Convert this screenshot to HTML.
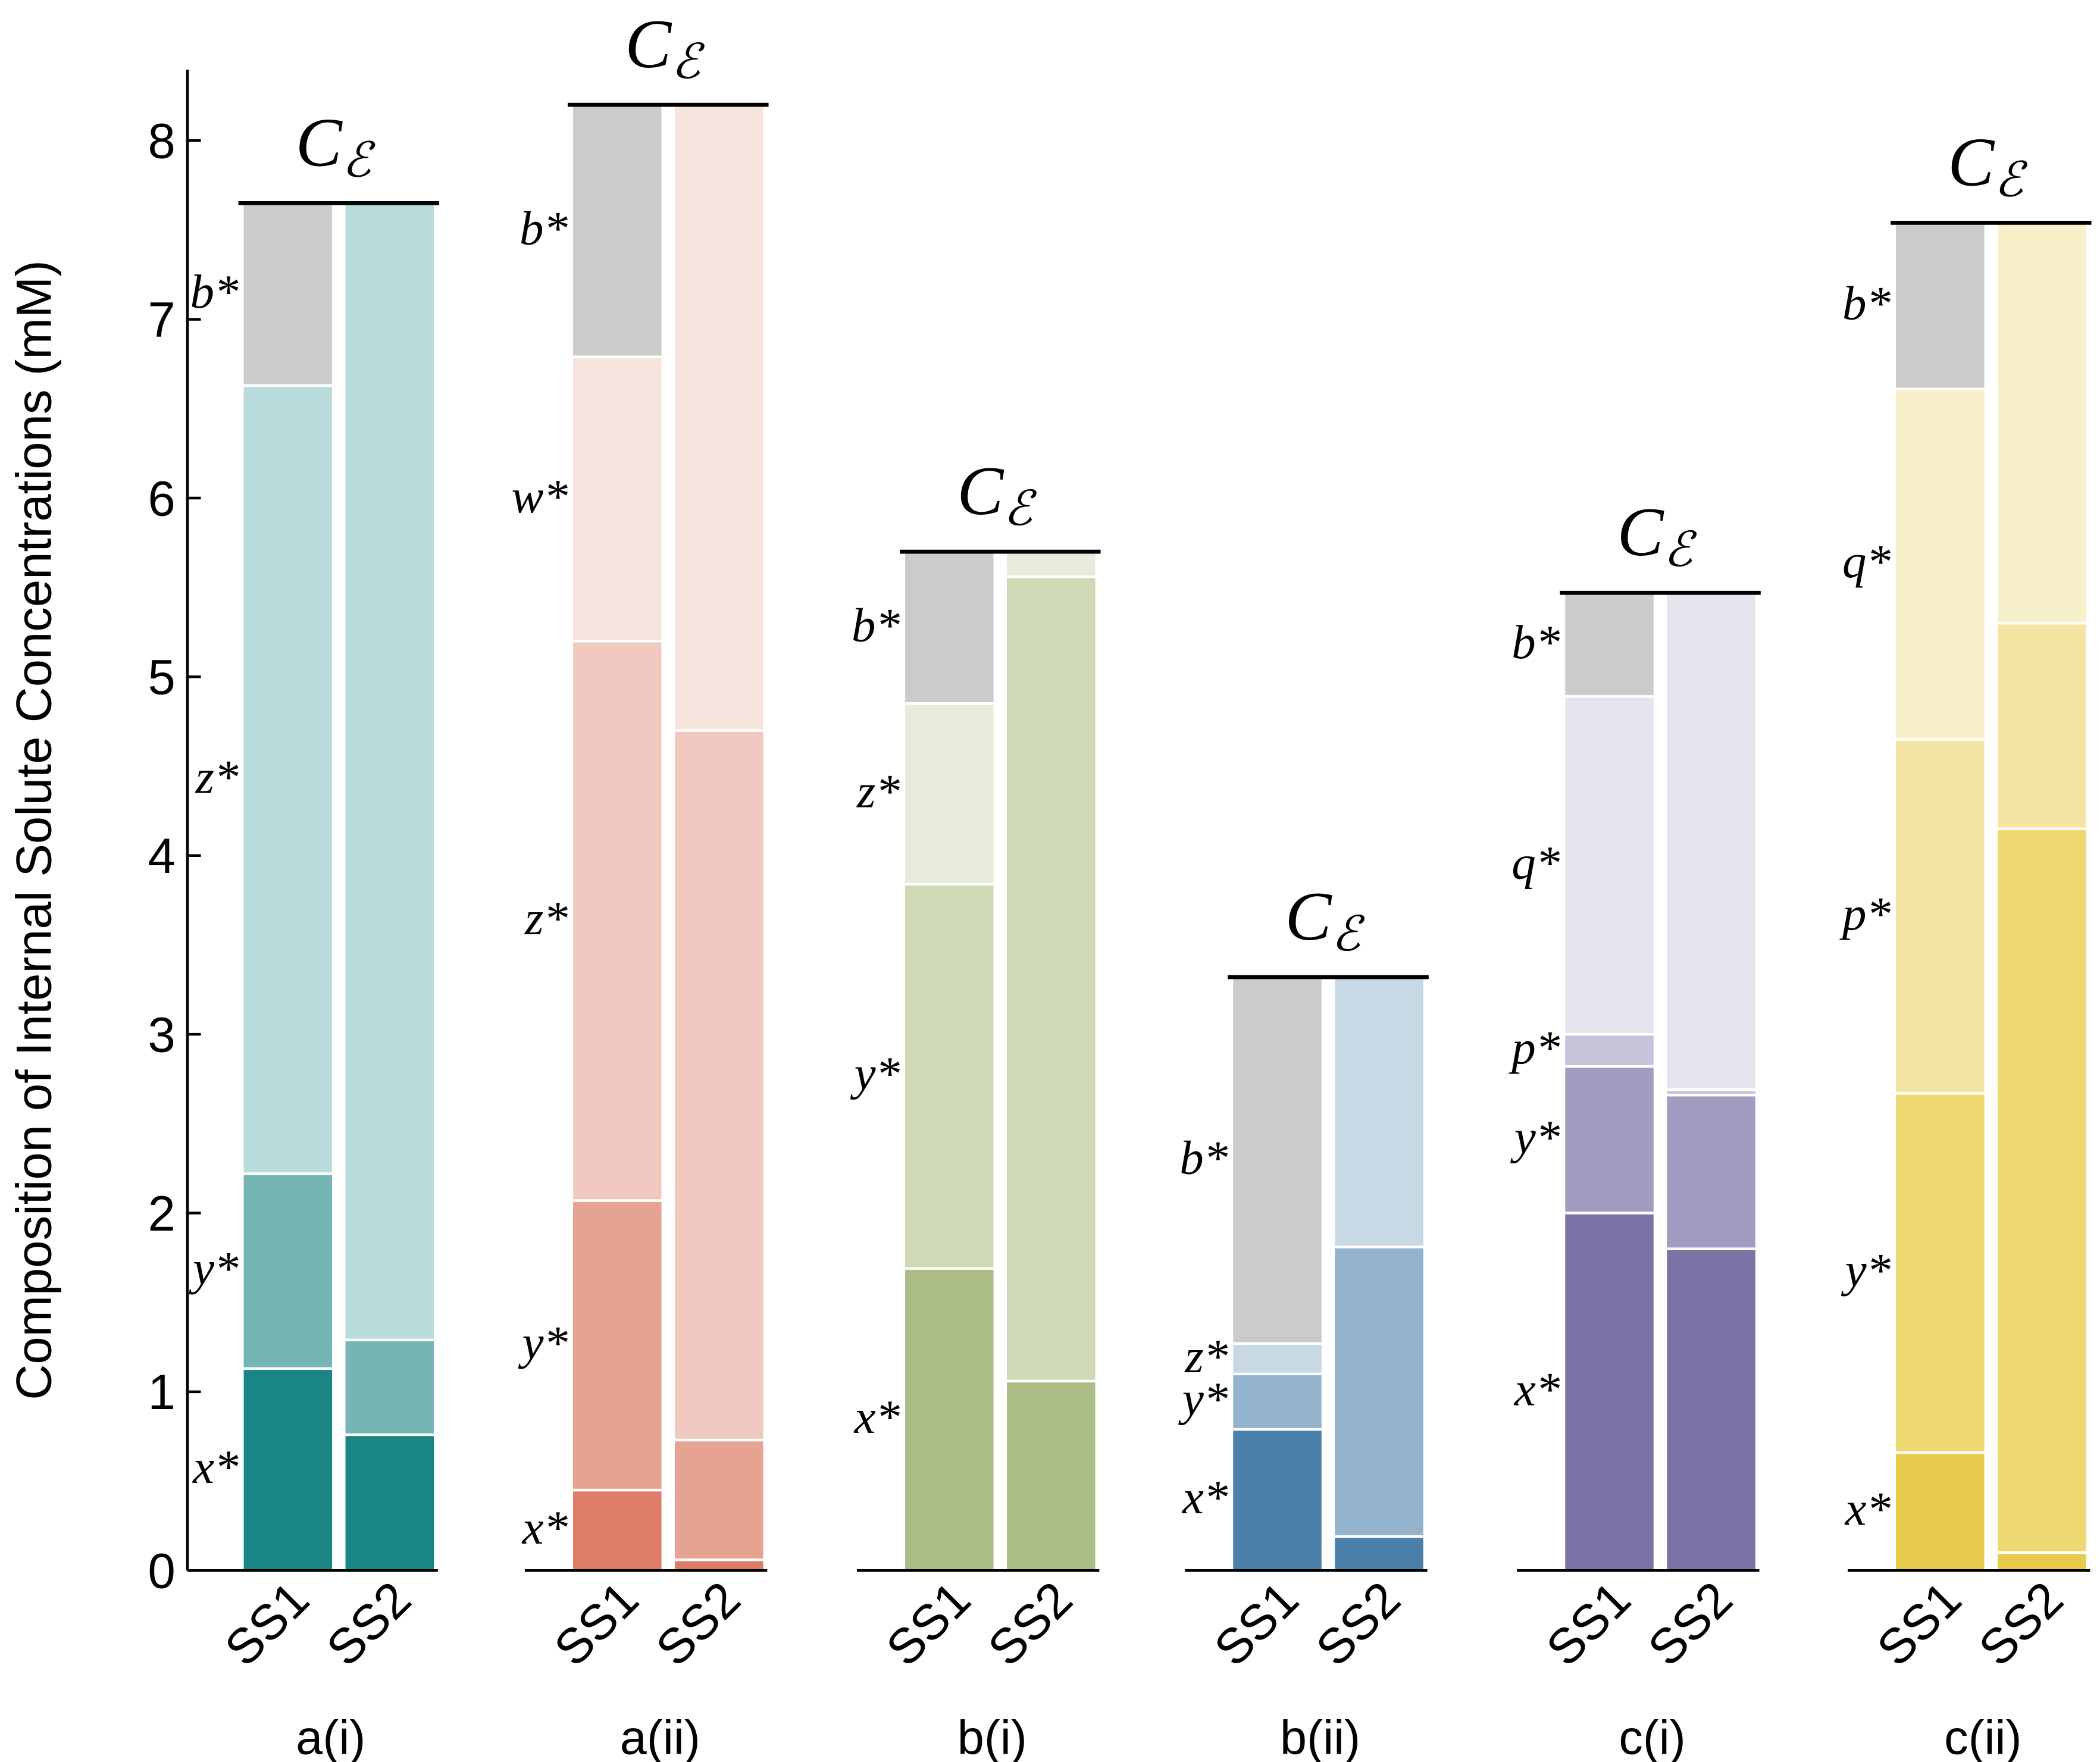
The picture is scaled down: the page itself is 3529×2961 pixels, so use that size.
<!DOCTYPE html>
<html><head><meta charset="utf-8"><style>html,body{margin:0;padding:0;background:#fff}svg{display:block}</style></head>
<body>
<svg id="chart" width="3529" height="2961" viewBox="0 0 1568.4 1316" xmlns="http://www.w3.org/2000/svg">
<g id="axis"></g>
<text transform="translate(38,620) rotate(-90)" text-anchor="middle" font-family="Liberation Sans, sans-serif" font-size="37">Composition of Internal Solute Concentrations (mM)</text>
<g id="panels"></g>
</svg>
<script>
const yTicks=[0,1,2,3,4,5,6,7,8];
const panelNames=["a(i)","a(ii)","b(i)","b(ii)","c(i)","c(ii)"];
const segNames=[["x","y","z","b"],["x","y","z","w","b"],["x","y","z","b"],["x","y","z","b"],["x","y","p","q","b"],["x","y","p","q","b"]];
const ss1Values=[[1.13,1.09,4.41,1.02],[0.45,1.62,3.13,1.59,1.41],[1.69,2.15,1.01,0.85],[0.79,0.31,0.17,2.05],[2.0,0.82,0.18,1.89,0.58],[0.66,2.01,1.98,1.96,0.93]];
const ss2Values=[[0.76,0.53,6.36],[0.06,0.67,3.97,3.5],[1.06,4.5,0.14],[0.19,1.62,1.51],[1.8,0.86,0.03,2.78],[0.1,4.05,1.15,2.24]];
const palettes=[["#1a8585","#76b5b5","#b8dbdb","#cbcbcb"],["#df7c66","#e6a392","#f0c9c0","#f7e4de","#cbcbcb"],["#abbc85","#cfd9b5","#e6ebdb","#cbcbcb"],["#4a7faa","#93b3cc","#c8d9e6","#cbcbcb"],["#7d72a6","#a49cc0","#c8c3da","#e4e3ee","#cbcbcb"],["#e8cb4c","#eed870","#f5e5a5","#f8f0c8","#cbcbcb"]];
const panelX=[182,428,676,921,1169,1416];
const NS="http://www.w3.org/2000/svg";
const Y=v=>1173-v*133.5;
function mk(tag,attrs,parent){const e=document.createElementNS(NS,tag);for(const k in attrs)e.setAttribute(k,attrs[k]);parent.appendChild(e);return e;}
const ax=document.getElementById('axis');
const ayl=mk('line',{x1:140,y1:52,x2:140,y2:1173,stroke:'#000','stroke-width':2},ax);


yTicks.forEach(t=>{
  const l=mk('line',{x1:140,x2:150,y1:Y(t),y2:Y(t),stroke:'#000','stroke-width':2},ax);
  
  
  const tx=mk('text',{x:131,y:Y(t)+13,'text-anchor':'end','font-family':'Liberation Sans, sans-serif','font-size':37},ax);
  tx.textContent=t;
  
  
});
const P=document.getElementById('panels');
const W=66,G=10;
panelNames.forEach((pn,i)=>{
  const g=mk('g',{},P);
  
  
  const x1=panelX[i],x2=x1+W+G;
  const total=ss1Values[i].reduce((a,b)=>a+b,0);
  [[ss1Values[i],x1,'ss1'],[ss2Values[i],x2,'ss2']].forEach(([vals,bx,tag],bi)=>{
    let c=0;
    vals.forEach((v,k)=>{
      const col=palettes[i][k];
      const r=mk('rect',{x:bx,y:Y(c+v),width:W,height:Math.max(0,Y(c)-Y(c+v)),fill:col},g);
      
      
      if(c>0){const s=mk('line',{x1:bx,x2:bx+W,y1:Y(c),y2:Y(c),stroke:'#fff','stroke-width':2},g);
        
        }
      if(bi===0){
        const lt=mk('text',{x:bx-4,y:Y(c+v/2)+10,'text-anchor':'end','font-family':'Liberation Serif, serif','font-style':'italic','font-size':36},g);
        lt.textContent=segNames[i][k]+'*';
        
        
      }
      c+=v;
    });
  });
  const base=mk('line',{x1:i===0?140:x1-36,x2:x2+W+3,y1:1173,y2:1173,stroke:'#000','stroke-width':2},g);
  
  
  const top=mk('line',{x1:x1-4,x2:x2+W+4,y1:Y(total),y2:Y(total),stroke:'#000','stroke-width':3},g);
  
  
  const ce=mk('text',{x:x1+W+G/2-4,y:Y(total)-28,'text-anchor':'middle','font-family':'Liberation Serif, serif','font-style':'italic','font-size':52},g);
  ce.innerHTML='C<tspan font-size="36" dy="8">ℰ</tspan>';
  
  
  [['SS1',x1],['SS2',x2]].forEach(([s,bx])=>{
    const t=mk('text',{transform:`translate(${bx+W/2+18},${1197}) rotate(-45)`,'text-anchor':'end','font-family':'Liberation Sans, sans-serif','font-size':37},g);
    t.textContent=s;
    
    
  });
  const pl=mk('text',{x:x1+W+G/2-6,y:1310,'text-anchor':'middle','font-family':'Liberation Sans, sans-serif','font-size':36},g);
  pl.textContent=pn;
  
  
});
</script>
</body></html>
